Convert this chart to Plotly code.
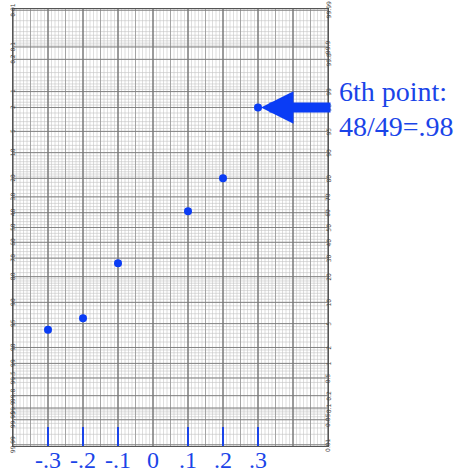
import numpy as np
import plotly.graph_objects as go
from statistics import NormalDist

# ---- data ----
x_vals = [-0.3, -0.2, -0.1, 0.1, 0.2, 0.3]
p_vals = [0.04, 0.06, 0.27, 0.61, 0.80, 0.98]   # cumulative proportions (read)
x_ticks = [-0.3, -0.2, -0.1, 0.1, 0.2, 0.3]
x_label_vals = [-0.3, -0.2, -0.1, 0.0, 0.1, 0.2, 0.3]
x_label_text = ["-.3", "-.2", "-.1", "0", ".1", ".2", ".3"]
prob_labels = [0.01, 0.05, 0.1, 0.2, 0.5, 1, 2, 5, 10, 20, 30, 40, 50,
               60, 70, 80, 90, 95, 98, 99, 99.8, 99.9, 99.99]
note_line1 = "6th point:"
note_line2 = "48/49=.98"

nd = NormalDist()
def z(pct):
    return nd.inv_cdf(pct / 100.0)

XMIN, XMAX = -0.4, 0.5
YMIN, YMAX = -3.74, 3.74
BLUE = "#1a44e8"
DOT = "#0a3cf5"

# minor horizontal probability lines (percent)
lo = (list(np.round(np.arange(0.01, 0.1, 0.01), 3)) +
      list(np.round(np.arange(0.1, 1.0, 0.1), 2)) +
      list(np.round(np.arange(1.0, 2.0, 0.2), 2)) +
      list(np.round(np.arange(2.0, 5.0, 0.5), 2)) +
      list(np.round(np.arange(5.0, 10.0, 1.0), 2)) +
      list(np.round(np.arange(10.0, 20.0, 1.0), 2)) +
      list(np.round(np.arange(20.0, 50.0, 2.0), 2)))
minor_h = sorted(set([p for p in lo] + [round(100 - p, 3) for p in lo] + [50.0]))

def hlines(pcts):
    xs, ys = [], []
    for p in pcts:
        zz = z(p)
        xs += [XMIN, XMAX, None]
        ys += [zz, zz, None]
    return xs, ys

def vlines(xv):
    xs, ys = [], []
    for x in xv:
        xs += [x, x, None]
        ys += [YMIN, YMAX, None]
    return xs, ys

fig = go.Figure()

vx_minor = [round(v, 3) for v in np.arange(XMIN, XMAX + 1e-9, 0.01)]
vx_mid = [round(v, 3) for v in np.arange(XMIN, XMAX + 1e-9, 0.05)]
vx_major = [round(v, 3) for v in np.arange(XMIN, XMAX + 1e-9, 0.1)]

for (xs, ys), col, w in [
    (vlines(vx_minor), "#c8c8c8", 0.6),
    (hlines(minor_h), "#c2c2c2", 0.6),
    (vlines(vx_mid), "#959595", 0.8),
    (vlines(vx_major), "#6a6a6a", 1.0),
    (hlines(prob_labels), "#7a7a7a", 0.9),
]:
    fig.add_trace(go.Scatter(x=xs, y=ys, mode="lines",
                             line=dict(color=col, width=w),
                             hoverinfo="skip", showlegend=False))

fig.add_trace(go.Scatter(x=x_vals, y=[nd.inv_cdf(p) for p in p_vals],
                         mode="markers",
                         marker=dict(color=DOT, size=8),
                         showlegend=False))

ann = []
# rotated probability labels on both sides
for p in prob_labels:
    zz = z(p)
    ann.append(dict(x=-0.019, y=zz, xref="paper", yref="y",
                    text=f"{100 - p:g}" if p != 50 else "50",
                    showarrow=False, textangle=-90,
                    font=dict(size=6, color="#444", family="DejaVu Sans")))
    ann.append(dict(x=1.018, y=zz, xref="paper", yref="y",
                    text=f"{p:g}", showarrow=False, textangle=-90,
                    font=dict(size=6, color="#444", family="DejaVu Sans")))

# bottom x labels
for xv, t in zip(x_label_vals, x_label_text):
    ann.append(dict(x=xv, y=0, xref="x", yref="paper", yanchor="middle",
                    yshift=-14, text=t, showarrow=False,
                    font=dict(size=24, color=BLUE, family="Liberation Serif")))

# arrow to 6th point
ann.append(dict(x=x_vals[-1], y=nd.inv_cdf(p_vals[-1]), xref="x", yref="y",
                ax=74, ay=0, text="", showarrow=True,
                arrowhead=2, arrowsize=0.65, arrowwidth=10,
                arrowcolor=DOT, standoff=3))
ann.append(dict(x=1.03, y=(227.5 - 92) / 58.4, xref="paper", yref="y",
                xanchor="left", text=note_line1, showarrow=False,
                font=dict(size=28, color=BLUE, family="Liberation Serif")))
ann.append(dict(x=1.03, y=(227.5 - 127) / 58.4, xref="paper", yref="y",
                xanchor="left", text=note_line2, showarrow=False,
                font=dict(size=28, color=BLUE, family="Liberation Serif")))

fig.update_layout(
    width=454, height=474,
    margin=dict(l=13, r=126, t=9, b=28),
    paper_bgcolor="white", plot_bgcolor="white",
    annotations=ann,
    xaxis=dict(range=[XMIN, XMAX], showgrid=False, zeroline=False,
               automargin=False, showticklabels=False,
               tickvals=x_ticks,
               ticks="inside", ticklen=19, tickwidth=2, tickcolor=BLUE,
               showline=True, linecolor="#555", linewidth=1, mirror=True),
    yaxis=dict(range=[YMIN, YMAX], showgrid=False, zeroline=False,
               automargin=False, showticklabels=False, ticks="",
               showline=True, linecolor="#555", linewidth=1, mirror=True),
)

fig.write_html("out.html")
